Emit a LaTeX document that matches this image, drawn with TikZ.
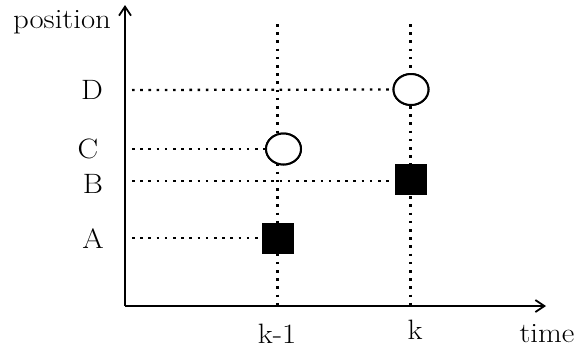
\documentclass[tikz,border=0pt]{standalone}
\usepackage{fontspec}
\usepackage{graphicx}
\usetikzlibrary{arrows.meta,shapes.geometric}
\newcommand\widetxt[1]{\scalebox{1.1}[1]{#1}}
\begin{document}
\begin{tikzpicture}[x=1pt,y=-1pt,
  axis/.style={line width=1.8pt,-{Straight Barb[length=9pt,width=12pt,line width=1.8pt]}},
  guide/.style={line width=2.3pt,dash pattern=on 2.6pt off 5.6pt},
  lbl/.style={font=\fontsize{28}{30}\selectfont,inner sep=0pt},
  hollow/.style={draw,line width=2pt,ellipse,minimum width=35pt,minimum height=31pt,inner sep=0pt,fill=white},
  solid/.style={fill=black,rectangle,minimum width=32pt,minimum height=31pt,inner sep=0pt}]
\useasboundingbox (0,0) rectangle (576,349);
% axes
\coordinate (O) at (125,306);
\coordinate (ytop) at (125,5);
\coordinate (xend) at (546,306);
% guide end points
\coordinate (v1top) at (277.5,24);
\coordinate (v2top) at (410.5,24);
\coordinate (v1bot) at (277.5,306);
\coordinate (v2bot) at (410.5,306);
\coordinate (hD) at (132,90);
\coordinate (hC) at (132,149);
\coordinate (hB) at (132,181);
\coordinate (hA) at (132,238);
% markers
\node[hollow] (cD) at (411,89.5) {};
\node[hollow] (cC) at (283.5,149) {};
\node[solid] (sB) at (410.5,179.5) {};
\node[solid] (sA) at (278,238) {};
% guides
\draw[guide] (v1top) -- (v1bot);
\draw[guide] (v2top) -- (v2bot);
\draw[guide] (hD) -- (cD.west);
\draw[guide] (hC) -- (cC.west);
\draw[guide] (hB) -- (sB.west |- hB);
\draw[guide] (hA) -- (sA.west);
% redraw markers on top
\node[hollow] at (cD) {};
\node[hollow] at (cC) {};
\node[solid] at (sB) {};
\node[solid] at (sA) {};
\draw[axis] (O) -- (ytop);
\draw[axis] (O) -- (xend);
% labels
\node[lbl] (lpos) at (62,22) {\widetxt{position}};
\node[lbl] (lD) at (92,90) {\widetxt{D}};
\node[lbl] (lC) at (88,149) {\widetxt{C}};
\node[lbl] (lB) at (93,184) {\widetxt{B}};
\node[lbl] (lA) at (93,239) {\widetxt{A}};
\node[lbl] (lk1) at (277,334) {\widetxt{k-1}};
\node[lbl] (lk) at (415,330) {\widetxt{k}};
\node[lbl] (lt) at (547,334) {\widetxt{time}};
\end{tikzpicture}
\end{document}
